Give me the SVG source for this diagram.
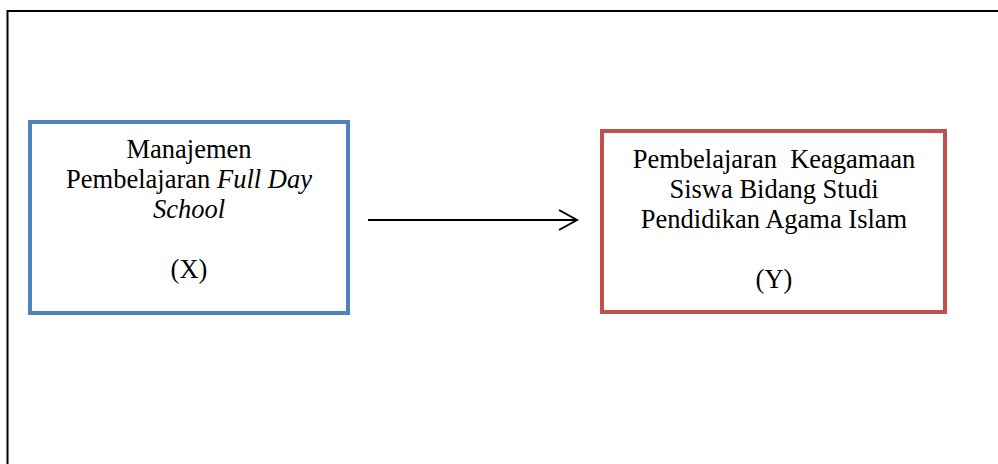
<svg xmlns="http://www.w3.org/2000/svg" width="998" height="464" viewBox="0 0 998 464">
<style>
.t{font-family:"Liberation Serif","Times New Roman",serif;font-size:26.5px;fill:#000;text-anchor:middle}
.i{font-style:italic}
.box{fill:#fff;stroke-width:4}
</style>
<rect x="0" y="0" width="998" height="464" fill="#fff"/>
<g id="frame">
<path d="M7.5,464 V11 H998" fill="none" stroke="#000" stroke-width="2"/>
</g>
<g id="nodeX">
<rect class="box" x="30" y="122" width="318" height="191" stroke="#4F81BD"/>
<text class="t" x="189" y="158">Manajemen</text>
<text class="t" x="189" y="188">Pembelajaran <tspan class="i">Full Day</tspan></text>
<text class="t i" x="189" y="218">School</text>
<text class="t" x="189" y="278">(X)</text>
</g>
<g id="nodeY">
<rect class="box" x="602" y="131" width="343" height="181" stroke="#C0504D"/>
<text class="t" x="774" y="168" xml:space="preserve">Pembelajaran  Keagamaan</text>
<text class="t" x="774" y="198">Siswa Bidang Studi</text>
<text class="t" x="774" y="228">Pendidikan Agama Islam</text>
<text class="t" x="774" y="288">(Y)</text>
</g>
<g id="connectors">
<line x1="368" y1="220" x2="576" y2="220" stroke="#000" stroke-width="2"/>
<polyline points="559,210 577,220 559,230" fill="none" stroke="#000" stroke-width="2"/>
</g>
</svg>
